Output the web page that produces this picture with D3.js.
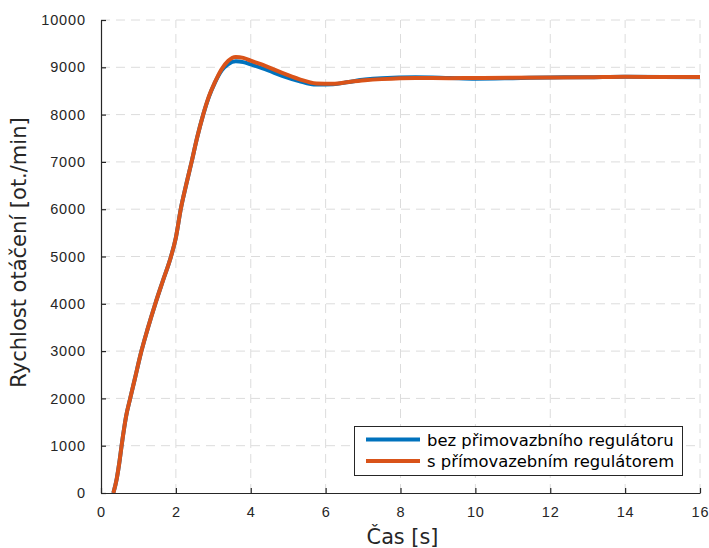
<!DOCTYPE html>
<html>
<head>
<meta charset="utf-8">
<script src="https://cdn.jsdelivr.net/npm/d3@7"></script>
<style>
  html, body { margin: 0; padding: 0; background: #fff; }
  svg { display: block; }
  .tick text { font-family: "Liberation Sans", Arial, sans-serif; font-size: 14.5px; letter-spacing: 0.9px; fill: #262626; }
</style>
</head>
<body>
<svg id="chart" width="709" height="548"></svg>
<script>
// Time axis samples [s]
const time = [0.33, 0.42, 0.5, 0.55, 0.62, 0.67, 0.78, 0.9, 1.08, 1.25, 1.45, 1.65, 1.87, 2.0, 2.13,
  2.27, 2.42, 2.57, 2.73, 2.88, 3.04, 3.22, 3.4, 3.6, 3.8, 4.0, 4.45, 4.84, 5.29, 5.75, 6.2, 6.62,
  7.05, 7.5, 8.4, 9.3, 10, 11, 12, 13, 14, 15, 16];

// Speed without feed-forward controller [rpm]
const speedNoFF = [0, 300, 700, 1000, 1380, 1620, 2000, 2400, 3000, 3480, 4000, 4480, 5000, 5400, 6000,
  6500, 7000, 7520, 8000, 8370, 8670, 8930, 9070, 9130, 9110, 9060, 8940, 8820, 8710, 8635, 8640, 8690,
  8740, 8770, 8790, 8775, 8760, 8770, 8785, 8790, 8800, 8795, 8790];

// Speed with feed-forward controller [rpm]
const speedFF = [0, 300, 700, 1000, 1380, 1620, 2000, 2400, 3000, 3480, 4000, 4480, 5000, 5400, 6000,
  6500, 7000, 7520, 8000, 8380, 8680, 8960, 9140, 9220, 9200, 9140, 9010, 8880, 8750, 8660, 8650, 8690,
  8725, 8750, 8775, 8770, 8775, 8780, 8785, 8790, 8800, 8795, 8795];

const xTicks = [0, 2, 4, 6, 8, 10, 12, 14, 16];
const yTicks = [0, 1000, 2000, 3000, 4000, 5000, 6000, 7000, 8000, 9000, 10000];

const seriesNames = ["bez přimovazbního regulátoru", "s přímovazebním regulátorem"];
const seriesColors = ["#0072BD", "#D95319"];

const svg = d3.select("#chart");
const plotL = 101, plotR = 700, plotT = 20, plotB = 493;

const x = d3.scaleLinear().domain([0, 16]).range([plotL, plotR]);
const y = d3.scaleLinear().domain([0, 10000]).range([plotB, plotT]);

const axisColor = "#262626";

// Grid
const grid = svg.append("g").attr("stroke", "#dcdcdc").attr("stroke-width", 1)
  .attr("stroke-dasharray", "9,6");
xTicks.slice(1).forEach(t => {
  grid.append("line").attr("x1", x(t)).attr("x2", x(t)).attr("y1", plotB).attr("y2", plotT);
});
yTicks.slice(1).forEach(t => {
  grid.append("line").attr("x1", plotL).attr("x2", plotR).attr("y1", y(t)).attr("y2", y(t));
});

// Series
const line = d3.line().x((d, i) => x(time[i])).y(d => y(d)).curve(d3.curveMonotoneX);
svg.append("clipPath").attr("id", "plotclip").append("rect")
  .attr("x", plotL).attr("y", plotT - 5).attr("width", plotR - plotL + 5).attr("height", plotB - plotT + 5);
[speedNoFF, speedFF].forEach((s, k) => {
  svg.append("path").datum(s)
    .attr("clip-path", "url(#plotclip)")
    .attr("fill", "none")
    .attr("stroke", seriesColors[k])
    .attr("stroke-width", 4)
    .attr("stroke-linejoin", "round")
    .attr("d", line);
});

// Axes
const fmt = d3.format("d");
const xAxis = d3.axisBottom(x).tickValues(xTicks).tickFormat(fmt).tickSizeInner(-5).tickSizeOuter(0).tickPadding(14);
const yAxis = d3.axisLeft(y).tickValues(yTicks).tickFormat(fmt).tickSizeInner(-5).tickSizeOuter(0).tickPadding(15);

const gx = svg.append("g").attr("transform", `translate(0,${plotB})`).call(xAxis);
const gy = svg.append("g").attr("transform", `translate(${plotL},0)`).call(yAxis);
[gx, gy].forEach(g => {
  g.select(".domain").attr("stroke", axisColor).attr("stroke-width", 1.2);
  g.selectAll(".tick line").attr("stroke", axisColor).attr("stroke-width", 1.2);
});

// Axis titles
svg.append("text")
  .attr("x", (plotL + plotR) / 2 + 2).attr("y", 544)
  .attr("text-anchor", "middle")
  .attr("font-family", "DejaVu Sans, sans-serif").attr("font-size", 20.8)
  .attr("fill", axisColor)
  .text("Čas [s]");

svg.append("text")
  .attr("transform", `translate(26,${(plotT + plotB) / 2 - 4}) rotate(-90)`)
  .attr("text-anchor", "middle")
  .attr("font-family", "DejaVu Sans, sans-serif").attr("font-size", 21)
  .attr("fill", axisColor)
  .text("Rychlost otáčení [ot./min]");

// Legend
const lg = svg.append("g");
lg.append("rect").attr("x", 354.5).attr("y", 426.5).attr("width", 328).attr("height", 49)
  .attr("fill", "#fff").attr("stroke", axisColor).attr("stroke-width", 1);
seriesNames.forEach((name, k) => {
  const yy = 439.5 + k * 21.5;
  lg.append("line").attr("x1", 366).attr("x2", 420).attr("y1", yy).attr("y2", yy)
    .attr("stroke", seriesColors[k]).attr("stroke-width", 4);
  lg.append("text").attr("x", 427).attr("y", yy + 6)
    .attr("font-family", "DejaVu Sans, sans-serif").attr("font-size", 16.4)
    .attr("fill", "#000")
    .text(name);
});
</script>
</body>
</html>
